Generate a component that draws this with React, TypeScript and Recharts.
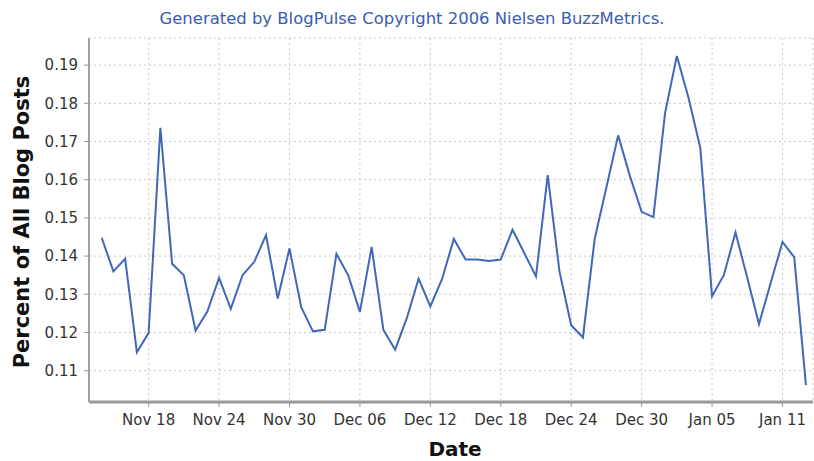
import React from "react";
import { LineChart, Line, XAxis, YAxis, CartesianGrid } from "recharts";

const dates = [
  "Nov 14", "Nov 15", "Nov 16", "Nov 17", "Nov 18", "Nov 19", "Nov 20", "Nov 21", "Nov 22", "Nov 23",
  "Nov 24", "Nov 25", "Nov 26", "Nov 27", "Nov 28", "Nov 29", "Nov 30", "Dec 01", "Dec 02", "Dec 03",
  "Dec 04", "Dec 05", "Dec 06", "Dec 07", "Dec 08", "Dec 09", "Dec 10", "Dec 11", "Dec 12", "Dec 13",
  "Dec 14", "Dec 15", "Dec 16", "Dec 17", "Dec 18", "Dec 19", "Dec 20", "Dec 21", "Dec 22", "Dec 23",
  "Dec 24", "Dec 25", "Dec 26", "Dec 27", "Dec 28", "Dec 29", "Dec 30", "Dec 31", "Jan 01", "Jan 02",
  "Jan 03", "Jan 04", "Jan 05", "Jan 06", "Jan 07", "Jan 08", "Jan 09", "Jan 10", "Jan 11", "Jan 12",
  "Jan 13",
];

const percentValues = [
  0.1448, 0.1360, 0.1393, 0.1148, 0.1199, 0.1736, 0.1380, 0.1350, 0.1205, 0.1255,
  0.1343, 0.1262, 0.1350, 0.1385, 0.1455, 0.1289, 0.1420, 0.1266, 0.1203, 0.1207,
  0.1406, 0.1350, 0.1254, 0.1424, 0.1207, 0.1155, 0.1238, 0.1341, 0.1268, 0.1340,
  0.1445, 0.1391, 0.1391, 0.1387, 0.1391, 0.1469, 0.1408, 0.1347, 0.1612, 0.1360,
  0.1219, 0.1187, 0.1445, 0.1580, 0.1716, 0.1610, 0.1516, 0.1502, 0.1775, 0.1924,
  0.1814, 0.1683, 0.1295, 0.1350, 0.1462, 0.1343, 0.1222, 0.1330, 0.1437, 0.1397,
  0.1062,
];

const tickDates = ["Nov 18", "Nov 24", "Nov 30", "Dec 06", "Dec 12", "Dec 18", "Dec 24", "Dec 30", "Jan 05", "Jan 11"];
const yTicks = [0.11, 0.12, 0.13, 0.14, 0.15, 0.16, 0.17, 0.18, 0.19];

const data = dates.map((d, i) => ({ idx: i, date: d, value: percentValues[i] }));
const xTicks = tickDates.map((d) => dates.indexOf(d));

const FONT = "'DejaVu Sans', Verdana, sans-serif";

const YTitle = (props: any) => {
  const vb = props.viewBox || {};
  const x = (vb.x ?? 0) + 29;
  const y = (vb.y ?? 0) + (vb.height ?? 0) / 2 + 2;
  return (
    <text
      x={x}
      y={y}
      transform={`rotate(-90 ${x} ${y})`}
      textAnchor="middle"
      fontFamily={FONT}
      fontWeight="bold"
      fontSize={21}
      fill="#111"
    >
      Percent of All Blog Posts
    </text>
  );
};

const XTitle = (props: any) => {
  const vb = props.viewBox || {};
  const x = (vb.x ?? 0) + (vb.width ?? 0) / 2 + 4;
  const y = (vb.y ?? 0) + 54;
  return (
    <text x={x} y={y} textAnchor="middle" fontFamily={FONT} fontWeight="bold" fontSize={20} fill="#111">
      Date
    </text>
  );
};

export default function App() {
  return (
    <div style={{ position: "absolute", left: 0, top: 0, width: 814, height: 461, background: "#fff" }}>
      <svg width={814} height={36} style={{ position: "absolute", left: 0, top: 0 }}>
        <text
          x={412}
          y={24}
          textAnchor="middle"
          fontFamily={FONT}
          fontSize={15}
          fill="#3a5cb2"
          textLength={505}
          lengthAdjust="spacingAndGlyphs"
        >
          Generated by BlogPulse Copyright 2006 Nielsen BuzzMetrics.
        </text>
      </svg>
      <div style={{ position: "absolute", left: 0, top: 0 }}>
        <LineChart width={814} height={461} data={data} margin={{ top: 38, right: 1, bottom: 0, left: 0 }}>
          <CartesianGrid stroke="#c8c8c8" strokeDasharray="2 3" />
          <XAxis
            xAxisId="top"
            orientation="top"
            type="number"
            domain={[0, 1]}
            height={0}
            tick={false}
            tickLine={false}
            axisLine={{ stroke: "#d0d0d0", strokeWidth: 2 }}
          />
          <XAxis
            dataKey="idx"
            type="number"
            domain={[-1.08, 60.6]}
            ticks={xTicks}
            tickFormatter={(v: number) => dates[v]}
            height={59}
            tickSize={5}
            tickMargin={7}
            interval={0}
            allowDataOverflow
            axisLine={{ stroke: "#999", strokeWidth: 3 }}
            tickLine={{ stroke: "#999" }}
            tick={{ fontFamily: FONT, fontSize: 15, fill: "#333" }}
            label={<XTitle />}
          />
          <YAxis
            type="number"
            domain={[0.1018, 0.1971]}
            ticks={yTicks}
            tickFormatter={(v: number) => v.toFixed(2)}
            width={89}
            tickSize={5}
            tickMargin={6}
            interval={0}
            allowDataOverflow
            axisLine={{ stroke: "#a0a0a0", strokeWidth: 2 }}
            tickLine={{ stroke: "#999" }}
            tick={{ fontFamily: FONT, fontSize: 15, fill: "#333" }}
            label={<YTitle />}
          />
          <Line
            type="linear"
            dataKey="value"
            stroke="#4167b9"
            strokeWidth={2}
            dot={false}
            isAnimationActive={false}
          />
        </LineChart>
      </div>
    </div>
  );
}
